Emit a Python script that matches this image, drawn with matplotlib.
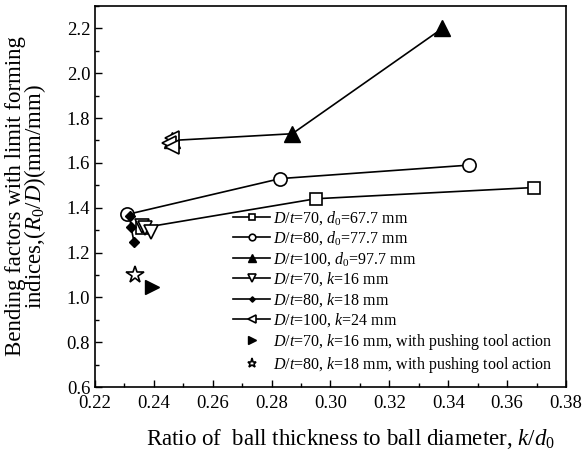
import numpy as np
import matplotlib.pyplot as plt
from matplotlib.ticker import MultipleLocator

plt.rcParams["font.family"] = "Liberation Serif"
plt.rcParams["mathtext.fontset"] = "custom"
plt.rcParams["mathtext.rm"] = "Liberation Serif"
plt.rcParams["mathtext.it"] = "Liberation Serif:italic"

# D/t=70, d0=67.7 mm
sq_x = [0.236, 0.295, 0.369]
sq_y = [1.31, 1.44, 1.49]
# D/t=80, d0=77.7 mm
ci_x = [0.231, 0.283, 0.347]
ci_y = [1.37, 1.53, 1.59]
# D/t=100, d0=97.7 mm
tu_x = [0.246, 0.287, 0.338]
tu_y = [1.70, 1.73, 2.20]
# D/t=70, k=16 mm
td_x = [0.236, 0.237, 0.239]
td_y = [1.32, 1.31, 1.29]
# D/t=80, k=18 mm
di_x = [0.2318, 0.2322, 0.2333]
di_y = [1.365, 1.315, 1.245]
# D/t=100, k=24 mm
tl_x = [0.246, 0.245, 0.246]
tl_y = [1.71, 1.69, 1.67]
# pushing tool action
push70_x, push70_y = [0.2392], [1.045]
push80_x, push80_y = [0.2336], [1.10]

labels = [
    r"$D/t$=70, $d_0$=67.7 mm",
    r"$D/t$=80, $d_0$=77.7 mm",
    r"$D/t$=100, $d_0$=97.7 mm",
    r"$D/t$=70, $k$=16 mm",
    r"$D/t$=80, $k$=18 mm",
    r"$D/t$=100, $k$=24 mm",
    r"$D/t$=70, $k$=16 mm, with pushing tool action",
    r"$D/t$=80, $k$=18 mm, with pushing tool action",
]

fig = plt.figure(figsize=(5.82, 4.57), dpi=100)
ax = fig.add_axes([95 / 582, 1 - 387 / 457, 471 / 582, 381 / 457])

open_kw = dict(color="black", mfc="white", mec="black", mew=1.2, lw=1.2)
ax.plot(sq_x, sq_y, marker="s", ms=8.5, label=labels[0], **open_kw)
ax.plot(ci_x, ci_y, marker="o", ms=9.5, label=labels[1], **open_kw)
ax.plot(tu_x, tu_y, marker="^", ms=12, color="black", lw=1.2, label=labels[2])
ax.plot(td_x, td_y, marker="v", ms=10.5, label=labels[3], **open_kw)
ax.plot(di_x, di_y, marker="D", ms=5.5, color="black", lw=1.2, label=labels[4])
ax.plot(tl_x, tl_y, marker="<", ms=10.5, label=labels[5], **open_kw)
ax.plot(push70_x, push70_y, ls="none", marker=">", ms=10.5, color="black", label=labels[6])
ax.plot(push80_x, push80_y, ls="none", marker="*", ms=13, mfc="white", mec="black",
        mew=1.2, label=labels[7])

ax.set_xlim(0.22, 0.38)
ax.set_ylim(0.6, 2.3)
ax.set_xticks(np.arange(0.22, 0.381, 0.02))
ax.set_xticklabels([f"{v:.2f}" for v in np.arange(0.22, 0.381, 0.02)])
ax.set_yticks(np.arange(0.6, 2.21, 0.2))
ax.set_yticklabels([f"{v:.1f}" for v in np.arange(0.6, 2.21, 0.2)])
ax.xaxis.set_minor_locator(MultipleLocator(0.01))
ax.yaxis.set_minor_locator(MultipleLocator(0.1))
ax.tick_params(which="both", direction="in", top=False, right=False, labelsize=13.5)
ax.tick_params(which="major", length=5, width=1)
ax.tick_params(which="minor", length=3, width=1)
ax.tick_params(axis="x", pad=6)
for s in ax.spines.values():
    s.set_linewidth(1.2)

ax.set_xlabel(r"Ratio of  ball thickness to ball diameter, $k/d_0$", fontsize=16.5)
ax.xaxis.set_label_coords(0.542, -0.105)
ax.set_ylabel("Bending factors with limit forming\n" + r"indices,($R_0/D$)(mm/mm)",
              fontsize=16.5, linespacing=0.78)
ax.yaxis.set_label_coords(-0.10, 0.5)

ax.legend(loc="lower left", bbox_to_anchor=(128 / 471, 0.005), frameon=False,
          fontsize=11.5, markerscale=0.5, handlelength=2.3, handletextpad=0.2,
          labelspacing=0.17, borderpad=0.15)

fig.savefig("out.png", dpi=100)
